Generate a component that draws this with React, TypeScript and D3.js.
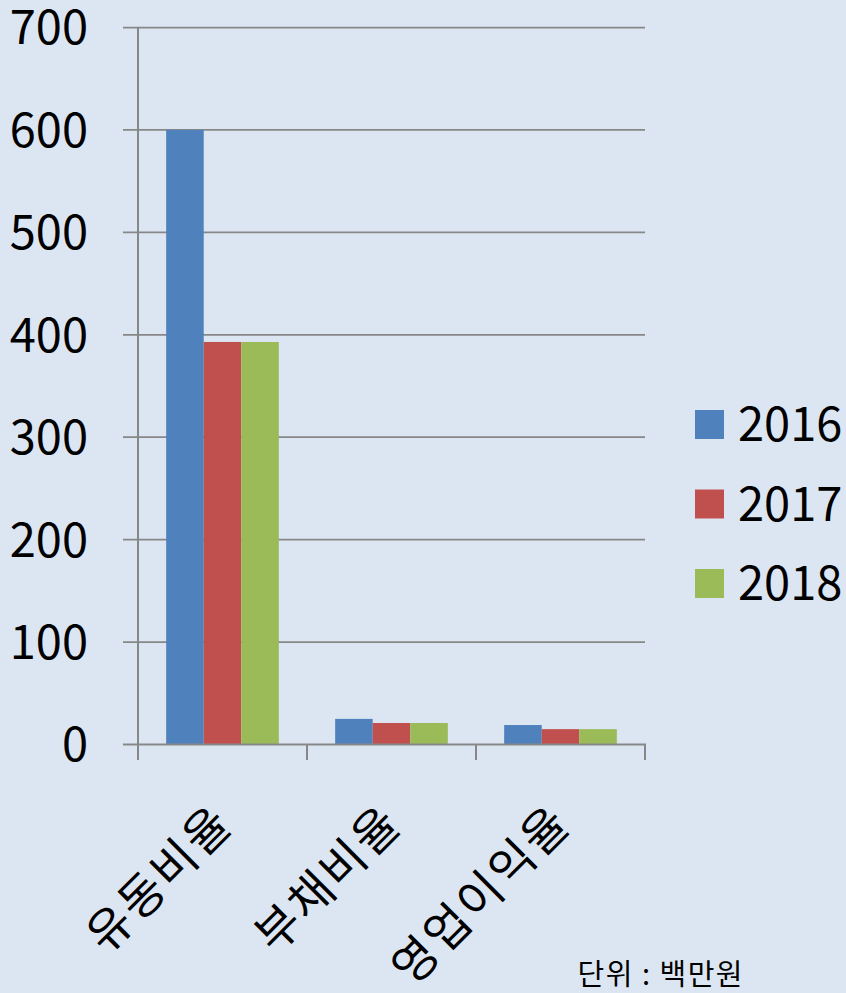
import React, { useEffect, useRef } from 'react';
import * as d3 from 'd3';

const categories = ['유동비율', '부채비율', '영업이익율'];
const series = ['2016', '2017', '2018'];
const values2016 = [600, 25, 19];
const values2017 = [393, 21, 15];
const values2018 = [393, 21, 15];
const yTicks = [0, 100, 200, 300, 400, 500, 600, 700];
const colors = ['#4F81BD', '#C0504D', '#9BBB59'];
const unitLabel = '단위 : 백만원';

const width = 846;
const height = 993;
const font = '"Noto Sans CJK KR", "Noto Sans", sans-serif';

export default function App() {
  const svgRef = useRef<SVGSVGElement | null>(null);

  useEffect(() => {
    if (!svgRef.current) return;
    const svg = d3.select(svgRef.current);
    svg.selectAll('*').remove();

    const allValues = [values2016, values2017, values2018];
    const rows = categories.map((c, i) => ({
      cat: c,
      vals: series.map((s, j) => ({ s, v: allValues[j][i] })),
    }));

    const y = d3.scaleLinear().domain([0, 700]).range([744.5, 27.5]);
    const x = d3.scaleBand().domain(categories).range([138, 645]).padding(0);
    const xi = d3.scaleBand().domain(series).range([0, x.bandwidth()])
      .paddingInner(0).paddingOuter(0.75);

    svg.append('rect').attr('width', width).attr('height', height).attr('fill', '#DCE6F2');

    // gridlines
    svg.append('g')
      .selectAll('line')
      .data(yTicks.filter(d => d > 0))
      .enter()
      .append('line')
      .attr('x1', 123)
      .attr('x2', 645)
      .attr('y1', d => y(d))
      .attr('y2', d => y(d))
      .attr('stroke', '#878787')
      .attr('stroke-width', 1.75);

    // bars
    const g = svg.append('g')
      .selectAll('g')
      .data(rows)
      .enter()
      .append('g')
      .attr('transform', d => `translate(${x(d.cat)},0)`);
    g.selectAll('rect')
      .data(d => d.vals)
      .enter()
      .append('rect')
      .attr('x', d => xi(d.s)!)
      .attr('width', xi.bandwidth())
      .attr('y', d => y(d.v))
      .attr('height', d => y(0) - y(d.v))
      .attr('fill', (d, i) => colors[i]);

    // axis lines + ticks
    svg.append('line')
      .attr('x1', 138).attr('x2', 138)
      .attr('y1', 27.5).attr('y2', 760)
      .attr('stroke', '#878787').attr('stroke-width', 2);
    svg.append('line')
      .attr('x1', 123).attr('x2', 646)
      .attr('y1', y(0)).attr('y2', y(0))
      .attr('stroke', '#878787').attr('stroke-width', 2);
    svg.append('g')
      .selectAll('line')
      .data([...categories.map(c => x(c)!), 645])
      .enter()
      .append('line')
      .attr('x1', d => d).attr('x2', d => d)
      .attr('y1', y(0)).attr('y2', 760)
      .attr('stroke', '#878787').attr('stroke-width', 2);

    // y tick labels
    svg.append('g')
      .selectAll('text')
      .data(yTicks)
      .enter()
      .append('text')
      .attr('x', 88)
      .attr('y', d => y(d))
      .attr('dy', '0.36em')
      .attr('text-anchor', 'end')
      .attr('font-family', font)
      .attr('font-size', 47)
      .attr('fill', '#000')
      .text(d => d);

    // category labels, rotated
    svg.append('g')
      .selectAll('text')
      .data(categories)
      .enter()
      .append('text')
      .attr('transform', c => `translate(${x(c)! + x.bandwidth() / 2 + 1},${814}) rotate(-45)`)
      .attr('text-anchor', 'end')
      .attr('dy', '0.36em')
      .attr('font-family', font)
      .attr('font-size', 47)
      .attr('letter-spacing', 2.5)
      .attr('fill', '#000')
      .text(c => c);

    // legend
    const lg = svg.append('g')
      .selectAll('g')
      .data(series)
      .enter()
      .append('g')
      .attr('transform', (d, i) => `translate(695,${410 + i * 79.5})`);
    lg.append('rect')
      .attr('width', 29).attr('height', 29)
      .attr('fill', (d, i) => colors[i]);
    lg.append('text')
      .attr('x', 43)
      .attr('y', 14.5)
      .attr('dy', '0.36em')
      .attr('font-family', font)
      .attr('font-size', 47)
      .attr('fill', '#000')
      .text(d => d);

    svg.append('text')
      .attr('x', 744)
      .attr('y', 985)
      .attr('text-anchor', 'end')
      .attr('font-family', font)
      .attr('font-size', 29)
      .attr('letter-spacing', 1.5)
      .attr('fill', '#000')
      .text(unitLabel);
  }, []);

  return (
    <svg
      ref={svgRef}
      width={width}
      height={height}
      style={{ position: 'absolute', left: 0, top: 0, display: 'block' }}
    />
  );
}
